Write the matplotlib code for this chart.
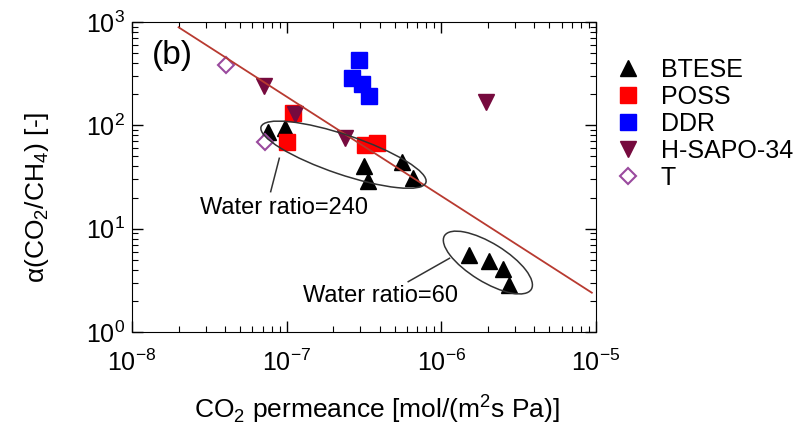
import numpy as np
import matplotlib
matplotlib.use('Agg')
import matplotlib.pyplot as plt
from matplotlib.patches import Ellipse
from matplotlib.transforms import ScaledTranslation

plt.rcParams['font.family'] = ['Liberation Sans', 'DejaVu Sans']
plt.rcParams['mathtext.fontset'] = 'custom'
plt.rcParams['mathtext.rm'] = 'Liberation Sans'

# data
btese_x = [7.6e-8, 9.75e-8, 3.16e-7, 3.37e-7, 5.54e-7, 6.59e-7, 1.51e-6, 2.03e-6, 2.49e-6, 2.75e-6]
btese_y = [86.8, 93.6, 40.4, 29.1, 43.9, 30.7, 5.55, 4.89, 4.04, 2.85]
poss_x = [1.10e-7, 1.01e-7, 3.21e-7, 3.82e-7]
poss_y = [130.7, 69.4, 64.5, 67.0]
ddr_x = [2.93e-7, 2.64e-7, 3.07e-7, 3.40e-7]
ddr_y = [428, 287, 251, 192]
sapo_x = [7.1e-8, 1.13e-7, 2.38e-7, 1.94e-6]
sapo_y = [240, 128.8, 74.9, 168]
t_x = [4.06e-8, 7.24e-8]
t_y = [384, 69.4]
# upper bound line
bound_x = [2.0e-8, 9.4e-6]
bound_y = [889, 2.40]

fig = plt.figure(figsize=(8.07, 4.28), dpi=100)
ax = fig.add_axes([0.1636, 0.2243, 0.5749, 0.7243])

ms = 11.5
ax.plot(btese_x, btese_y, '^', color='black', ms=ms, label='BTESE', zorder=3)
ax.plot(poss_x, poss_y, 's', color='#ff0000', ms=ms, label='POSS', zorder=3)
ax.plot(ddr_x, ddr_y, 's', color='#0000ff', ms=ms, label='DDR', zorder=3)
ax.plot(sapo_x, sapo_y, 'v', color='#760a3e', ms=ms, label='H-SAPO-34', zorder=4)
ax.plot(t_x, t_y, 'D', mfc='white', mec='#9a4a9e', mew=1.5, ms=8.5, label='T', zorder=5)
ax.plot(bound_x, bound_y, '-', color='#b83a30', lw=1.3, zorder=6)

# ellipses marking the water ratio groups (size in inches, centred on data point)
for xc, yc, w, h, ang in [(2.33e-7, 52.0, 1.74, 0.395, -18.7), (2.00e-6, 4.70, 1.02, 0.385, -31.7)]:
    tr = fig.dpi_scale_trans + ScaledTranslation(xc, yc, ax.transData)
    ax.add_patch(Ellipse((0, 0), w, h, angle=ang, transform=tr, fill=False,
                         ec='#333333', lw=1.1, zorder=7))

ax.plot([8.96e-8, 7.88e-8], [48.0, 22.8], '-', color='#333333', lw=1.1, zorder=7)
ax.plot([1.13e-6, 6.11e-7], [5.17, 3.07], '-', color='#333333', lw=1.1, zorder=7)
ax.text(9.61e-8, 15.85, 'Water ratio=240', fontsize=17, ha='center', va='center')
ax.text(4.07e-7, 2.23, 'Water ratio=60', fontsize=17, ha='center', va='center')
ax.text(0.0873, 0.8935, '(b)', transform=ax.transAxes, fontsize=24, ha='center', va='center')

ax.set_xscale('log')
ax.set_yscale('log')
ax.set_xlim(1e-8, 1e-5)
ax.set_ylim(1, 1e3)
ax.tick_params(which='both', direction='in', top=True, right=True, labelsize=18)
ax.tick_params(which='major', length=8, width=1)
ax.tick_params(which='minor', length=4.5, width=0.8)
ax.tick_params(axis='x', pad=13)
ax.tick_params(axis='y', pad=5)
ax.set_xlabel('CO$_2$ permeance [mol/(m$^2$s Pa)]', fontsize=19)
ax.set_ylabel('α(CO$_2$/CH$_4$) [-]', fontsize=19)
ax.xaxis.set_label_coords(0.528, -0.195)
ax.yaxis.set_label_coords(-0.175, 0.435)

fig.legend(loc='upper left', bbox_to_anchor=(0.732, 0.918), frameon=False, fontsize=18,
           handletextpad=0.7, labelspacing=0.12, handlelength=1.2)

fig.savefig('out.png', dpi=100)
